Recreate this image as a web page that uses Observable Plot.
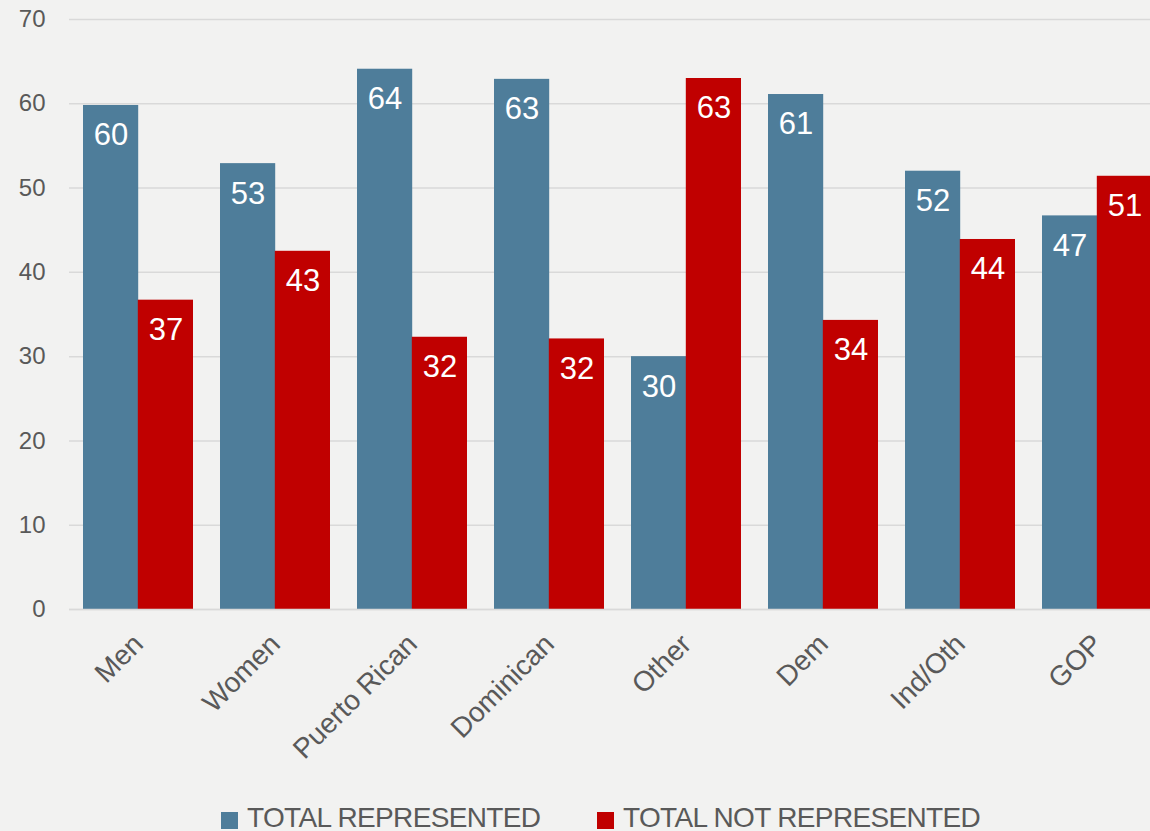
<!DOCTYPE html>
<html>
<head>
<meta charset="utf-8">
<script src="https://cdn.jsdelivr.net/npm/d3@7"></script>
<script src="https://cdn.jsdelivr.net/npm/@observablehq/plot@0.6"></script>
<style>
  html, body { margin: 0; padding: 0; background: #f2f2f1; overflow: hidden; width: 1150px; height: 831px; }
  #chart { position: absolute; left: 0; top: 0; }
  #chart svg { display: block; }
  .legend-item { position: absolute; top: 804px; height: 28px; display: flex; align-items: center;
    font-family: "Liberation Sans", Arial, sans-serif; font-size: 28px; line-height: 28px; color: #595959; letter-spacing: -0.65px; white-space: nowrap; }
  .legend-swatch { width: 17px; height: 17px; margin-right: 9px; margin-top: 5px; flex: none; }
</style>
</head>
<body>
<div id="chart"></div>
<div id="legend"></div>
<script>
// ---- data ----
const categories = ["Men", "Women", "Puerto Rican", "Dominican", "Other", "Dem", "Ind/Oth", "GOP"];
const seriesNames = ["TOTAL REPRESENTED", "TOTAL NOT REPRESENTED"];
const representedValues = [59.8, 52.9, 64.1, 62.9, 30.0, 61.1, 52.0, 46.7];
const notRepresentedValues = [36.7, 42.5, 32.3, 32.1, 63.0, 34.3, 43.9, 51.4];
const representedLabels = [60, 53, 64, 63, 30, 61, 52, 47];
const notRepresentedLabels = [37, 43, 32, 32, 63, 34, 44, 51];
const yTicks = [0, 10, 20, 30, 40, 50, 60, 70];
const seriesColors = ["#4e7d9a", "#c00000"];

// ---- table built from arrays ----
const rows = [];
categories.forEach((c, i) => {
  rows.push({category: c, series: seriesNames[0], value: representedValues[i], label: representedLabels[i]});
  rows.push({category: c, series: seriesNames[1], value: notRepresentedValues[i], label: notRepresentedLabels[i]});
});
const rep = rows.filter(d => d.series === seriesNames[0]);
const notRep = rows.filter(d => d.series === seriesNames[1]);

// ---- layout ----
const W = 1150, H = 800;
const xRange = [69.3, 1165.3];
const padInner = 0.2, padOuter = 0.1;
const step = (xRange[1] - xRange[0]) / (categories.length - padInner + 2 * padOuter);
const bw = step * (1 - padInner);
const half = bw / 2;
const font = "'Liberation Sans', Arial, sans-serif";
const textColor = "#595959";

const chart = Plot.plot({
  width: W,
  height: H,
  marginTop: 19,
  marginBottom: H - 609,
  marginLeft: 69,
  marginRight: 0,
  style: {background: "transparent", fontFamily: font, overflow: "visible"},
  x: {type: "band", domain: categories, range: xRange, paddingInner: padInner, paddingOuter: padOuter, label: null},
  y: {domain: [0, 70], label: null},
  color: {domain: seriesNames, range: seriesColors},
  marks: [
    Plot.gridY(yTicks, {stroke: "#d9d9d9", strokeOpacity: 1, strokeWidth: 1.5}),
    Plot.axisY(yTicks, {tickSize: 0, tickPadding: 24, fontSize: 24, fill: textColor, label: null}),
    Plot.axisX({tickSize: 0, tickPadding: 30, tickRotate: -45, fontSize: 28, fill: textColor, label: null}),
    Plot.barY(rep, {x: "category", y: "value", fill: "series", insetRight: half}),
    Plot.barY(notRep, {x: "category", y: "value", fill: "series", insetLeft: half}),
    Plot.ruleY([0], {stroke: "#d9d9d9", strokeWidth: 1.5}),
    Plot.text(rep, {x: "category", y: "value", text: "label", dx: -half / 2, dy: 30, fill: "white", fontSize: 31}),
    Plot.text(notRep, {x: "category", y: "value", text: "label", dx: half / 2, dy: 30, fill: "white", fontSize: 31})
  ]
});
document.getElementById("chart").appendChild(chart);

// ---- legend ----
const legend = document.getElementById("legend");
const legendLeft = [221, 597];
seriesNames.forEach((name, i) => {
  const item = document.createElement("div");
  item.className = "legend-item";
  item.style.left = legendLeft[i] + "px";
  const sw = document.createElement("span");
  sw.className = "legend-swatch";
  sw.style.background = seriesColors[i];
  const tx = document.createElement("span");
  tx.textContent = name;
  item.appendChild(sw);
  item.appendChild(tx);
  legend.appendChild(item);
});
</script>
</body>
</html>
